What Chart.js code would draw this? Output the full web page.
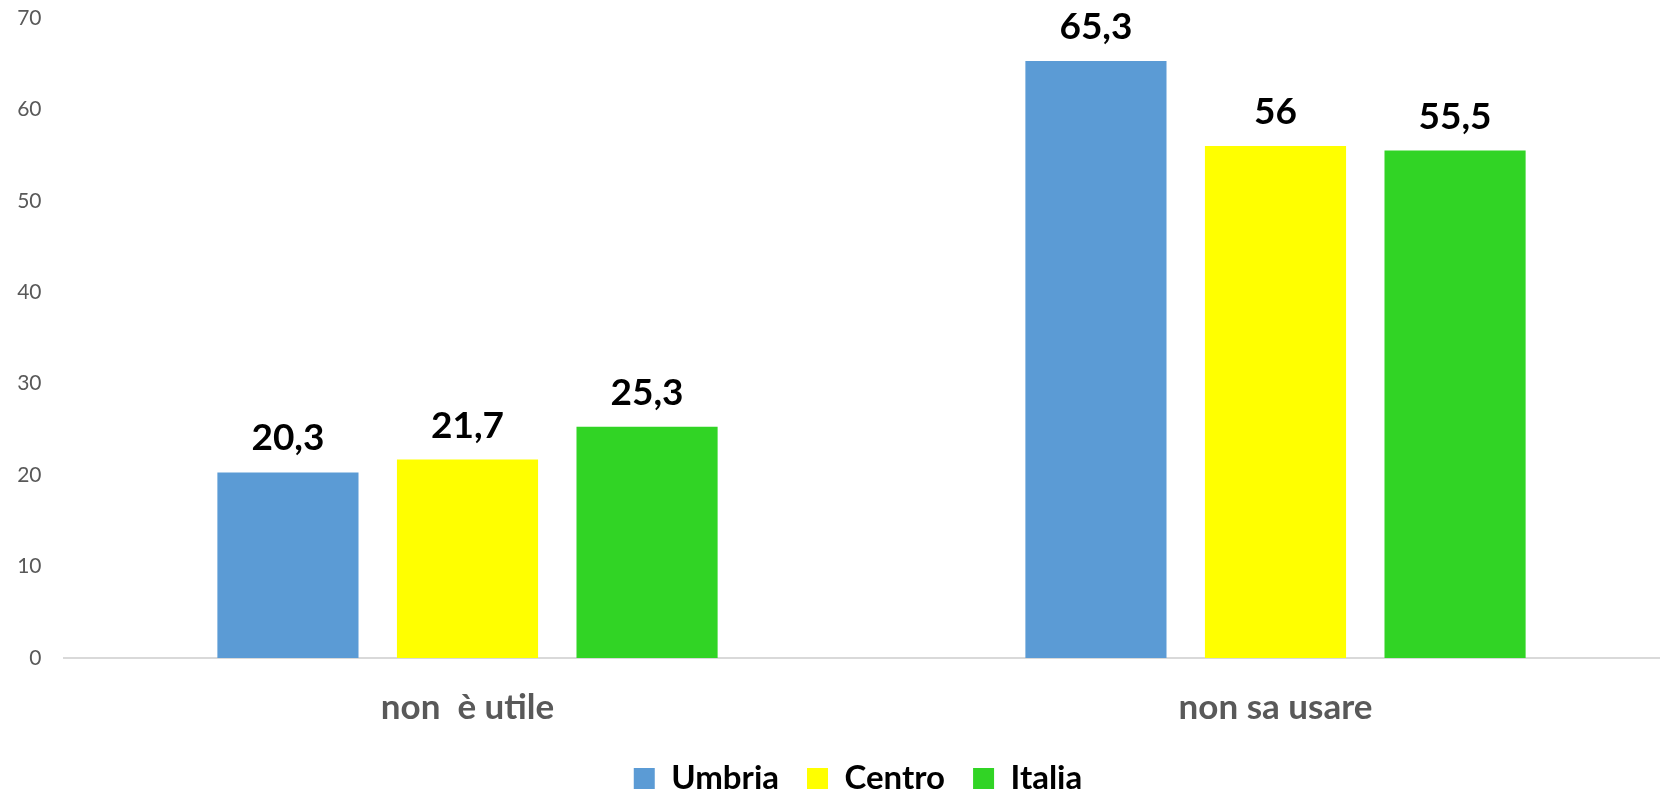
<!DOCTYPE html>
<html>
<head>
<meta charset="utf-8">
<script src="https://cdn.jsdelivr.net/npm/chart.js@4.4.1/dist/chart.umd.min.js"></script>
<style>
  html, body { margin: 0; padding: 0; overflow: hidden; background: #fff; }
  #wrap { width: 1716px; height: 789px; }
</style>
</head>
<body>
<div id="wrap"><canvas id="chart"></canvas></div>
<script>
const categories = ["non  è utile", "non sa usare"];
const umbria = [20.3, 65.3];
const centro = [21.7, 56];
const italia = [25.3, 55.5];
const yTicks = [0, 10, 20, 30, 40, 50, 60, 70];

const FONT = "Lato, 'Open Sans', sans-serif";

// labels above the bars, italian decimal comma
const barLabels = {
    id: 'barLabels',
    afterDatasetsDraw(chart) {
        const ctx = chart.ctx;
        ctx.save();
        ctx.font = "bold 37px " + FONT;
        ctx.fillStyle = '#000';
        ctx.textAlign = 'center';
        ctx.textBaseline = 'alphabetic';
        chart.data.datasets.forEach((ds, i) => {
            chart.getDatasetMeta(i).data.forEach((bar, j) => {
                ctx.fillText(String(ds.data[j]).replace('.', ','), bar.x, bar.y - 22);
            });
        });
        ctx.restore();
    }
};

let canvas = document.getElementById("chart");
let chart = new Chart(canvas, {
    type: 'bar',
    data: {
        labels: categories,
        datasets: [
            { label: "Umbria", backgroundColor: '#5B9BD5', data: umbria },
            { label: "Centro", backgroundColor: '#FFFF00', data: centro },
            { label: "Italia", backgroundColor: '#31D425', data: italia }
        ]
    },
    options: {
        responsive: true,
        maintainAspectRatio: false,
        animation: false,
        layout: { padding: { top: 0, left: 0, right: 0, bottom: -16 } },
        datasets: { bar: { categoryPercentage: 2 / 3, barPercentage: 0.786 } },
        plugins: {
            tooltip: { enabled: false },
            legend: {
                position: 'bottom',
                labels: {
                    font: { family: FONT, size: 33, weight: 'bold' },
                    color: '#000',
                    boxWidth: 21,
                    boxHeight: 21,
                    padding: 28
                }
            }
        },
        scales: {
            x: {
                afterFit: s => { s.height = 76; },
                grid: { display: false, drawTicks: false },
                border: { display: true, color: '#D9D9D9', width: 2 },
                ticks: {
                    color: '#595959',
                    padding: 29,
                    maxRotation: 0,
                    font: { family: FONT, size: 35, weight: 'bold' }
                }
            },
            y: {
                min: 0,
                max: 70,
                afterBuildTicks: s => { s.ticks = yTicks.map(v => ({ value: v })); },
                afterFit: s => { s.width = 63.5; s.paddingTop = 18; s.paddingBottom = 0; },
                grid: { display: false, drawTicks: false },
                border: { display: false },
                ticks: {
                    color: '#595959',
                    padding: 22,
                    font: { family: FONT, size: 21 }
                }
            },
            pad: {
                position: 'right',
                display: true,
                afterFit: s => { s.width = 36.5; },
                grid: { display: false, drawTicks: false },
                border: { display: false },
                ticks: { display: false }
            }
        }
    },
    plugins: [barLabels]
});
</script>
</body>
</html>
